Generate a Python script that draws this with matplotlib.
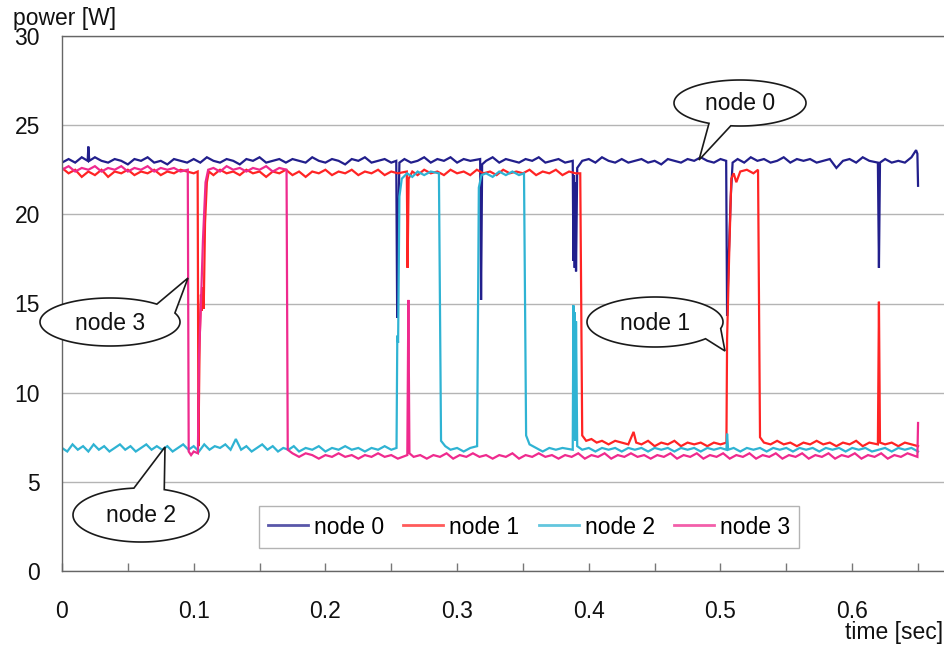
import matplotlib
matplotlib.use("Agg")
import matplotlib.pyplot as plt
import numpy as np
from matplotlib.patches import Polygon
from matplotlib.ticker import MultipleLocator, FuncFormatter

plt.rcParams['font.family'] = ['Liberation Sans', 'DejaVu Sans']

# ---- measured power traces: (time [sec], power [W]) ----
node0_samples = [
    (0.000, 22.9), (0.005, 23.1), (0.010, 22.9), (0.015, 23.2), (0.0195, 23.0), (0.0200, 23.8), (0.0207, 23.0),
    (0.025, 23.2), (0.030, 23.0), (0.035, 22.9), (0.040, 23.1), (0.045, 23.0), (0.050, 22.8), (0.055, 23.1),
    (0.060, 23.0), (0.065, 23.2), (0.070, 22.9), (0.075, 23.0), (0.080, 22.8), (0.085, 23.1), (0.090, 23.0),
    (0.095, 22.9), (0.100, 23.1), (0.105, 22.9), (0.110, 23.2), (0.115, 23.0), (0.120, 22.9), (0.125, 23.1),
    (0.130, 23.0), (0.135, 22.8), (0.140, 23.1), (0.145, 23.0), (0.150, 23.2), (0.155, 22.9), (0.160, 23.0),
    (0.165, 23.1), (0.170, 22.9), (0.175, 23.1), (0.180, 23.0), (0.185, 22.9), (0.190, 23.2), (0.195, 23.0),
    (0.200, 22.9), (0.205, 23.1), (0.210, 23.0), (0.215, 22.8), (0.220, 23.1), (0.225, 23.0), (0.230, 23.2),
    (0.235, 22.9), (0.240, 23.0), (0.245, 23.1), (0.250, 22.9), (0.2538, 23.0), (0.2545, 14.2), (0.2553, 19.5),
    (0.2562, 22.9), (0.260, 23.1), (0.265, 22.9), (0.270, 23.0), (0.275, 23.2), (0.280, 22.9), (0.285, 23.1),
    (0.290, 23.0), (0.295, 23.2), (0.300, 22.9), (0.305, 23.1), (0.310, 23.0), (0.3175, 23.1), (0.3182, 15.2),
    (0.3190, 22.8), (0.322, 23.0), (0.327, 23.2), (0.332, 22.9), (0.337, 23.1), (0.342, 23.0), (0.347, 22.9),
    (0.352, 23.1), (0.357, 23.0), (0.362, 23.2), (0.367, 22.9), (0.372, 23.0), (0.377, 23.1), (0.382, 22.9),
    (0.3878, 23.0), (0.3883, 17.4), (0.3888, 22.2), (0.3893, 17.0), (0.3898, 21.8), (0.3903, 16.8),
    (0.3912, 22.6), (0.395, 23.0), (0.400, 23.1), (0.405, 22.9), (0.410, 23.2), (0.415, 23.0), (0.420, 22.9),
    (0.425, 23.1), (0.430, 22.9), (0.435, 23.0), (0.440, 23.1), (0.445, 22.9), (0.450, 23.0), (0.455, 22.8),
    (0.460, 23.1), (0.465, 23.0), (0.470, 22.9), (0.475, 23.1), (0.480, 23.0), (0.485, 23.2), (0.490, 23.0),
    (0.495, 22.9), (0.500, 23.1), (0.5043, 23.0), (0.5050, 14.3), (0.5062, 17.5), (0.5078, 21.0),
    (0.5092, 22.9), (0.513, 23.1), (0.518, 22.9), (0.523, 23.2), (0.528, 23.0), (0.533, 23.1), (0.538, 22.9),
    (0.543, 23.0), (0.548, 23.2), (0.553, 22.9), (0.558, 23.1), (0.563, 23.0), (0.568, 23.1), (0.573, 22.9),
    (0.578, 23.0), (0.583, 23.1), (0.588, 22.6), (0.593, 23.0), (0.598, 23.1), (0.603, 22.9), (0.608, 23.2),
    (0.613, 23.0), (0.6195, 22.9), (0.6203, 17.0), (0.6211, 22.9), (0.625, 23.1), (0.630, 22.9), (0.635, 23.0),
    (0.640, 22.9), (0.645, 23.2), (0.6485, 23.6), (0.6495, 23.4), (0.6500, 21.6),
]

node1_samples = [
    (0.000, 22.6), (0.005, 22.3), (0.010, 22.5), (0.015, 22.1), (0.020, 22.4), (0.025, 22.2), (0.030, 22.5),
    (0.035, 22.1), (0.040, 22.4), (0.045, 22.3), (0.050, 22.5), (0.055, 22.2), (0.060, 22.4), (0.065, 22.3),
    (0.070, 22.5), (0.075, 22.2), (0.080, 22.4), (0.085, 22.3), (0.090, 22.5), (0.095, 22.4), (0.100, 22.3),
    (0.1030, 22.4), (0.1036, 7.0), (0.1045, 12.8), (0.1055, 15.5), (0.1062, 14.6), (0.1070, 15.9),
    (0.1076, 14.7), (0.1086, 19.5), (0.1100, 21.8), (0.1115, 22.4), (0.115, 22.2), (0.120, 22.5), (0.125, 22.3),
    (0.130, 22.4), (0.135, 22.2), (0.140, 22.5), (0.145, 22.3), (0.150, 22.4), (0.155, 22.1), (0.160, 22.4),
    (0.165, 22.3), (0.170, 22.5), (0.175, 22.2), (0.180, 22.4), (0.185, 22.1), (0.190, 22.4), (0.195, 22.3),
    (0.200, 22.5), (0.205, 22.2), (0.210, 22.4), (0.215, 22.3), (0.220, 22.5), (0.225, 22.2), (0.230, 22.4),
    (0.235, 22.3), (0.240, 22.5), (0.245, 22.2), (0.250, 22.4), (0.255, 22.3), (0.2618, 22.4), (0.2624, 17.0),
    (0.2632, 22.0), (0.266, 22.4), (0.270, 22.2), (0.275, 22.5), (0.280, 22.3), (0.285, 22.4), (0.290, 22.2),
    (0.295, 22.5), (0.300, 22.3), (0.305, 22.4), (0.310, 22.2), (0.315, 22.5), (0.320, 22.3), (0.325, 22.4),
    (0.330, 22.2), (0.335, 22.5), (0.340, 22.3), (0.345, 22.4), (0.350, 22.3), (0.355, 22.5), (0.360, 22.2),
    (0.365, 22.4), (0.370, 22.3), (0.375, 22.5), (0.380, 22.2), (0.385, 22.4), (0.390, 22.3), (0.3935, 22.3),
    (0.3950, 7.6), (0.398, 7.3), (0.402, 7.4), (0.406, 7.2), (0.410, 7.3), (0.415, 7.1), (0.420, 7.3),
    (0.425, 7.2), (0.430, 7.1), (0.434, 7.8), (0.436, 7.2), (0.440, 7.1), (0.445, 7.3), (0.450, 7.0),
    (0.455, 7.2), (0.460, 7.1), (0.465, 7.3), (0.470, 7.0), (0.475, 7.2), (0.480, 7.1), (0.485, 7.2),
    (0.490, 7.0), (0.495, 7.2), (0.500, 7.1), (0.5045, 7.2), (0.5050, 13.0), (0.5065, 17.5), (0.5082, 22.0),
    (0.510, 22.3), (0.512, 21.8), (0.515, 22.4), (0.520, 22.5), (0.525, 22.3), (0.5285, 22.5), (0.5300, 7.5),
    (0.533, 7.2), (0.538, 7.1), (0.543, 7.3), (0.548, 7.1), (0.553, 7.2), (0.558, 7.0), (0.563, 7.2),
    (0.568, 7.1), (0.573, 7.3), (0.578, 7.1), (0.583, 7.2), (0.588, 7.0), (0.593, 7.2), (0.598, 7.1),
    (0.603, 7.3), (0.608, 7.0), (0.613, 7.2), (0.6195, 7.1), (0.6203, 15.1), (0.6211, 7.2), (0.625, 7.1),
    (0.630, 7.2), (0.635, 7.0), (0.640, 7.2), (0.645, 7.1), (0.650, 7.0),
]

node2_samples = [
    (0.000, 6.9), (0.004, 6.7), (0.008, 7.1), (0.012, 6.8), (0.016, 7.0), (0.020, 6.7), (0.024, 7.1),
    (0.028, 6.8), (0.032, 7.0), (0.036, 6.7), (0.040, 6.9), (0.044, 7.1), (0.048, 6.8), (0.052, 7.0),
    (0.056, 6.7), (0.060, 6.9), (0.064, 7.1), (0.068, 6.8), (0.072, 7.0), (0.076, 6.8), (0.080, 7.0),
    (0.084, 6.7), (0.088, 6.9), (0.092, 7.1), (0.096, 6.8), (0.100, 7.0), (0.104, 6.7), (0.108, 7.1),
    (0.112, 6.8), (0.116, 7.0), (0.120, 6.9), (0.124, 7.1), (0.128, 6.8), (0.132, 7.4), (0.136, 6.8),
    (0.140, 7.0), (0.144, 6.7), (0.148, 6.9), (0.152, 7.1), (0.156, 6.8), (0.160, 7.0), (0.164, 6.7),
    (0.168, 6.9), (0.172, 6.8), (0.176, 7.0), (0.180, 6.7), (0.185, 6.9), (0.190, 6.8), (0.195, 7.0),
    (0.200, 6.7), (0.205, 6.9), (0.210, 6.8), (0.215, 7.0), (0.220, 6.8), (0.225, 6.9), (0.230, 6.7),
    (0.235, 6.9), (0.240, 6.8), (0.245, 7.0), (0.250, 6.8), (0.2540, 6.9), (0.2546, 13.2), (0.2552, 12.8),
    (0.2562, 21.0), (0.258, 22.0), (0.262, 22.3), (0.266, 22.1), (0.270, 22.4), (0.275, 22.2), (0.280, 22.4),
    (0.2862, 22.3), (0.2878, 7.3), (0.291, 7.0), (0.295, 6.8), (0.300, 6.9), (0.305, 6.7), (0.310, 6.9),
    (0.3152, 7.0), (0.3165, 21.5), (0.3185, 22.2), (0.322, 22.3), (0.327, 22.1), (0.332, 22.4), (0.337, 22.2),
    (0.342, 22.4), (0.347, 22.2), (0.3508, 22.3), (0.3524, 7.6), (0.355, 7.1), (0.360, 6.9), (0.365, 6.7),
    (0.370, 6.9), (0.375, 6.8), (0.380, 6.9), (0.3878, 6.8), (0.3883, 14.9), (0.3888, 7.4), (0.3893, 14.5),
    (0.3898, 7.3), (0.3903, 14.0), (0.3912, 7.0), (0.395, 6.8), (0.400, 6.9), (0.405, 6.7), (0.410, 6.9),
    (0.415, 6.8), (0.420, 6.9), (0.425, 6.7), (0.430, 6.9), (0.435, 6.8), (0.440, 6.9), (0.445, 6.7),
    (0.450, 6.9), (0.455, 6.8), (0.460, 6.9), (0.465, 6.7), (0.470, 6.9), (0.475, 6.8), (0.480, 6.9),
    (0.485, 6.7), (0.490, 6.9), (0.495, 6.8), (0.500, 6.9), (0.5045, 6.8), (0.5050, 7.7), (0.5058, 6.8),
    (0.510, 6.9), (0.515, 6.7), (0.520, 6.9), (0.525, 6.8), (0.530, 6.9), (0.535, 6.7), (0.540, 6.9),
    (0.545, 6.8), (0.550, 6.9), (0.555, 6.7), (0.560, 6.9), (0.565, 6.8), (0.570, 6.9), (0.575, 6.7),
    (0.580, 6.9), (0.585, 6.8), (0.590, 6.9), (0.595, 6.7), (0.600, 6.9), (0.605, 6.8), (0.610, 6.9),
    (0.615, 6.7), (0.620, 6.8), (0.625, 6.9), (0.630, 6.7), (0.635, 6.9), (0.640, 6.8), (0.645, 6.9),
    (0.650, 6.7),
]

node3_samples = [
    (0.000, 22.5), (0.005, 22.7), (0.010, 22.4), (0.015, 22.6), (0.020, 22.5), (0.025, 22.7), (0.030, 22.4),
    (0.035, 22.6), (0.040, 22.5), (0.045, 22.7), (0.050, 22.4), (0.055, 22.6), (0.060, 22.5), (0.065, 22.7),
    (0.070, 22.4), (0.075, 22.6), (0.080, 22.5), (0.085, 22.6), (0.090, 22.4), (0.0955, 22.5), (0.0962, 6.7),
    (0.098, 6.5), (0.100, 6.7), (0.1032, 6.6), (0.1040, 12.0), (0.1055, 15.0), (0.1070, 18.5), (0.1090, 21.8),
    (0.1110, 22.5), (0.115, 22.6), (0.120, 22.4), (0.125, 22.7), (0.130, 22.5), (0.135, 22.6), (0.140, 22.4),
    (0.145, 22.6), (0.150, 22.5), (0.155, 22.7), (0.160, 22.4), (0.165, 22.6), (0.1705, 22.5), (0.1714, 6.8),
    (0.175, 6.6), (0.180, 6.4), (0.185, 6.6), (0.190, 6.5), (0.195, 6.3), (0.200, 6.5), (0.205, 6.4),
    (0.210, 6.6), (0.215, 6.4), (0.220, 6.5), (0.225, 6.3), (0.230, 6.5), (0.235, 6.4), (0.240, 6.6),
    (0.245, 6.4), (0.250, 6.5), (0.255, 6.3), (0.2622, 6.5), (0.2630, 15.2), (0.2638, 6.6), (0.267, 6.4),
    (0.272, 6.5), (0.277, 6.3), (0.282, 6.5), (0.287, 6.4), (0.292, 6.6), (0.297, 6.3), (0.302, 6.5),
    (0.307, 6.4), (0.312, 6.6), (0.317, 6.4), (0.322, 6.5), (0.327, 6.3), (0.332, 6.5), (0.337, 6.4),
    (0.342, 6.6), (0.347, 6.3), (0.352, 6.5), (0.357, 6.4), (0.362, 6.6), (0.367, 6.4), (0.372, 6.5),
    (0.377, 6.3), (0.382, 6.5), (0.387, 6.4), (0.392, 6.6), (0.397, 6.3), (0.402, 6.5), (0.407, 6.4),
    (0.412, 6.6), (0.417, 6.3), (0.422, 6.5), (0.427, 6.4), (0.432, 6.6), (0.437, 6.4), (0.442, 6.5),
    (0.447, 6.3), (0.452, 6.5), (0.457, 6.4), (0.462, 6.6), (0.467, 6.3), (0.472, 6.5), (0.477, 6.4),
    (0.482, 6.6), (0.487, 6.3), (0.492, 6.5), (0.497, 6.4), (0.502, 6.6), (0.507, 6.3), (0.512, 6.5),
    (0.517, 6.4), (0.522, 6.6), (0.527, 6.3), (0.532, 6.5), (0.537, 6.4), (0.542, 6.6), (0.547, 6.3),
    (0.552, 6.5), (0.557, 6.4), (0.562, 6.6), (0.567, 6.3), (0.572, 6.5), (0.577, 6.4), (0.582, 6.6),
    (0.587, 6.3), (0.592, 6.5), (0.597, 6.4), (0.602, 6.6), (0.607, 6.3), (0.612, 6.5), (0.617, 6.4),
    (0.622, 6.6), (0.627, 6.3), (0.632, 6.5), (0.637, 6.4), (0.642, 6.6), (0.6495, 6.4), (0.6500, 8.3),
]

series_names = ["node 0", "node 1", "node 2", "node 3"]
series_colors = ["#221f8c", "#ff2424", "#2fb3d3", "#ef2a8e"]
series_samples = [node0_samples, node1_samples, node2_samples, node3_samples]

# ---- figure ----
W, H = 945, 645
fig = plt.figure(figsize=(W / 100, H / 100), dpi=100)
x0_px, x1_px, y0_px, y1_px = 62, 945, 571, 36
ax = fig.add_axes([x0_px / W, 1 - y0_px / H, (x1_px - x0_px) / W, (y0_px - y1_px) / H])

for name, color, samples in zip(series_names, series_colors, series_samples):
    t, p = zip(*samples)
    ax.plot(t, p, color=color, lw=1.6, label=name, solid_joinstyle='miter')

ax.set_xlim(0, (x1_px - x0_px) / 1317.0)
ax.set_ylim(0, 30)

ax.yaxis.set_major_locator(MultipleLocator(5))
ax.xaxis.set_major_locator(MultipleLocator(0.05))
ax.xaxis.set_major_formatter(FuncFormatter(
    lambda v, pos: ("%g" % round(v, 2)) if abs(v * 10 - round(v * 10)) < 1e-6 else ""))

ax.grid(axis='y', color='#b4b4b4', lw=1.0)
ax.set_axisbelow(True)
ax.tick_params(axis='y', length=0, pad=16, labelsize=16.5, labelcolor='#111')
ax.tick_params(axis='x', direction='in', length=6, width=1, color='#777', pad=21,
               labelsize=16.5, labelcolor='#111')
for s in ('left', 'top', 'bottom'):
    ax.spines[s].set_color('#666')
    ax.spines[s].set_linewidth(1.0)
ax.spines['right'].set_visible(False)

fig.text(13 / W, 1 - 25 / H, "power [W]", fontsize=16.5, ha='left', va='baseline', color='#111')
fig.text(943 / W, 1 - 633 / H, "time [sec]", fontsize=16.5, ha='right', va='center', color='#111')

leg = ax.legend(loc='center', bbox_to_anchor=(529 / W, 1 - 527 / H), bbox_transform=fig.transFigure,
                ncol=4, frameon=True, fancybox=False, fontsize=16.5, handlelength=1.75,
                handletextpad=0.25, columnspacing=0.85, borderpad=0.4)
leg.get_frame().set_edgecolor('#a0a0a0')
leg.get_frame().set_linewidth(1.0)
for h in leg.get_lines():
    h.set_linewidth(2.0)
    h.set_alpha(0.75)

# ---- speech-bubble callouts (figure pixel coordinates) ----
ov = fig.add_axes([0, 0, 1, 1])
ov.set_xlim(0, W)
ov.set_ylim(H, 0)
ov.axis('off')
ov.patch.set_visible(False)


def bubble(cx, cy, a, b, th1, th2, tip, text):
    ang = np.radians(np.linspace(th2, th1 + 360, 240))
    pts = list(zip(cx + a * np.cos(ang), cy + b * np.sin(ang))) + [tip]
    ov.add_patch(Polygon(pts, closed=True, facecolor='white', edgecolor='#1a1a1a', lw=1.2, zorder=5))
    ov.text(cx, cy + 1, text, ha='center', va='center', fontsize=16.5, color='#111', zorder=6)


bubble(740, 103, 66, 23, 98, 118, (699, 160), "node 0")
bubble(110, 322, 70, 24, -48, -22, (188, 278), "node 3")
bubble(655, 322, 68, 25, 15, 42, (725, 351), "node 1")
bubble(141, 515, 68, 27, -96, -70, (165, 447), "node 2")

fig.savefig("out.png", dpi=100)
